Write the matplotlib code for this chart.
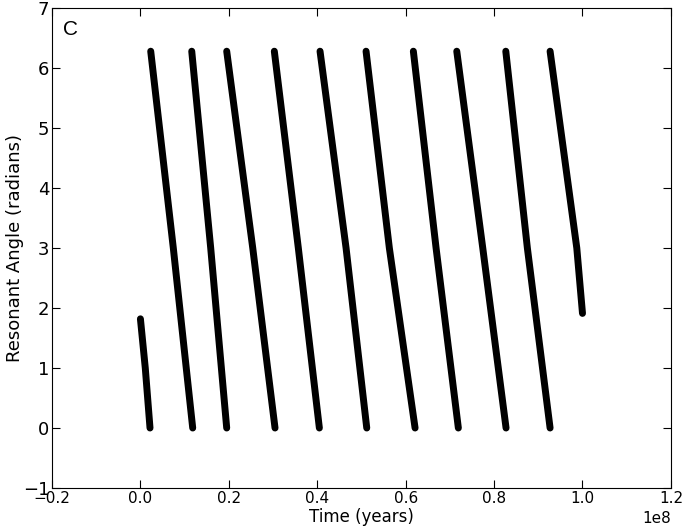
import numpy as np
import matplotlib
matplotlib.use('Agg')
import matplotlib.pyplot as plt

# resonant angle circulation (time in years)
seg_top_t = [0.0, 0.233e7, 1.161e7, 1.952e7, 3.029e7, 4.063e7, 5.104e7, 6.174e7, 7.156e7, 8.265e7, 9.267e7]
seg_top_y = [1.82, 6.28, 6.28, 6.28, 6.28, 6.28, 6.28, 6.28, 6.28, 6.28, 6.28]
seg_mid_t = [0.110e7, 0.744e7, 1.590e7, 2.541e7, 3.572e7, 4.652e7, 5.631e7, 6.688e7, 7.744e7, 8.753e7, 9.871e7]
seg_mid_y = [1.0, 3.0, 3.0, 3.0, 3.0, 3.0, 3.0, 3.0, 3.0, 3.0, 3.0]
seg_end_t = [0.217e7, 1.183e7, 1.952e7, 3.045e7, 4.048e7, 5.120e7, 6.213e7, 7.192e7, 8.271e7, 9.267e7, 1.0e8]
seg_end_y = [0.0, 0.0, 0.0, 0.0, 0.0, 0.0, 0.0, 0.0, 0.0, 0.0, 1.91]

fig = plt.figure(figsize=(6.86, 5.26), dpi=100)
ax = fig.add_axes([0.0758, 0.0722, 0.9022, 0.9126])

for i in range(len(seg_top_t)):
    ax.plot([seg_top_t[i], seg_mid_t[i], seg_end_t[i]],
            [seg_top_y[i], seg_mid_y[i], seg_end_y[i]],
            color='black', lw=5, solid_capstyle='round', solid_joinstyle='round')

ax.set_xlim(-0.2e8, 1.2e8)
ax.set_ylim(-1, 7)
ax.set_xticks(np.arange(-0.2e8, 1.21e8, 0.2e8))
ax.set_yticks(range(-1, 8))
ax.tick_params(direction='in', length=6, top=True, right=True)
ax.tick_params(axis='x', labelsize=11, pad=2.5)
ax.tick_params(axis='y', labelsize=13, pad=2)
ax.xaxis.get_offset_text().set_fontsize(11)
ax.set_xlabel('Time (years)', fontsize=12, labelpad=1)
ax.set_ylabel('Resonant Angle (radians)', fontsize=13)
ax.yaxis.set_label_coords(-0.046, 0.5)
ax.text(0.018, 0.975, 'C', transform=ax.transAxes, fontsize=15,
        family='Liberation Sans', va='top', ha='left')

fig.savefig('out.png', dpi=100)
